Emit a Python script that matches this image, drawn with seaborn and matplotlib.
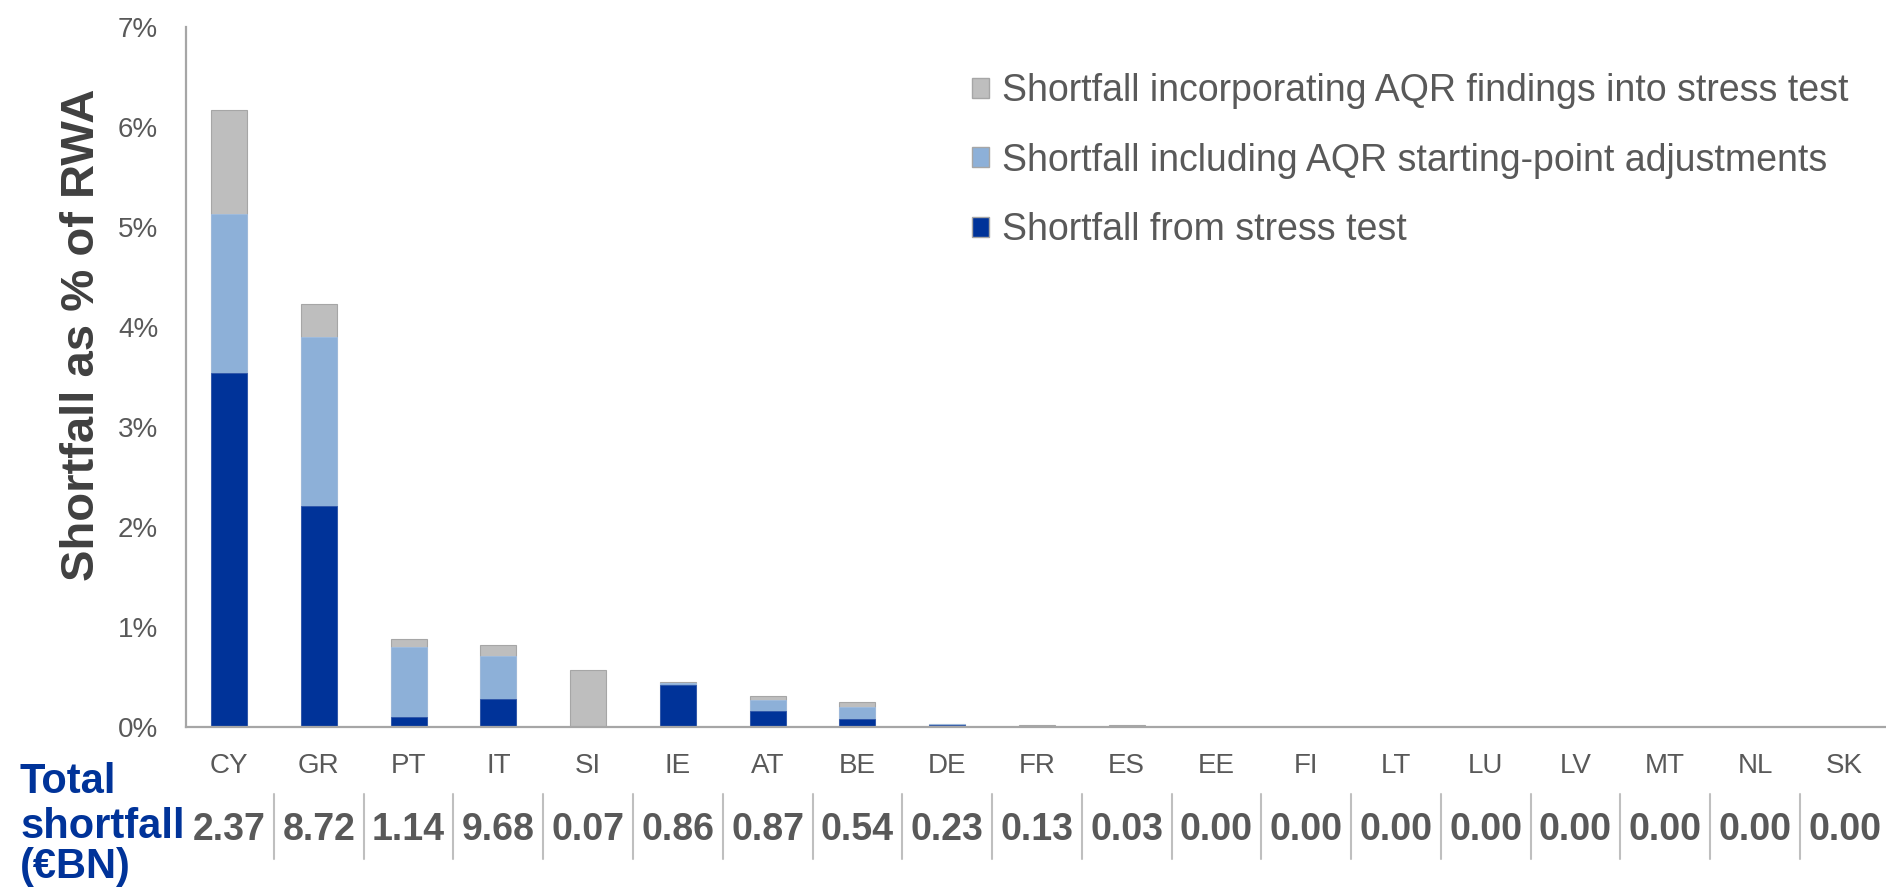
import numpy as np
import pandas as pd
import matplotlib
matplotlib.use("Agg")
import matplotlib.pyplot as plt
import matplotlib.transforms as mtransforms
from matplotlib.patches import Patch
import seaborn as sns

# data (shortfall as % of RWA)
countries = ['CY', 'GR', 'PT', 'IT', 'SI', 'IE', 'AT', 'BE', 'DE', 'FR',
             'ES', 'EE', 'FI', 'LT', 'LU', 'LV', 'MT', 'NL', 'SK']
stress_test = [3.54, 2.21, 0.105, 0.285, 0.0, 0.42, 0.158, 0.084, 0.017, 0.0,
               0.0, 0, 0, 0, 0, 0, 0, 0, 0]
aqr_start = [1.59, 1.69, 0.695, 0.425, 0.0, 0.025, 0.117, 0.114, 0.013, 0.0,
             0.0, 0, 0, 0, 0, 0, 0, 0, 0]
aqr_findings = [1.04, 0.33, 0.076, 0.11, 0.57, 0.004, 0.04, 0.057, 0.003, 0.023,
                0.023, 0, 0, 0, 0, 0, 0, 0, 0]
total_bn = ['2.37', '8.72', '1.14', '9.68', '0.07', '0.86', '0.87', '0.54', '0.23',
            '0.13', '0.03', '0.00', '0.00', '0.00', '0.00', '0.00', '0.00', '0.00', '0.00']
legend_labels = ['Shortfall incorporating AQR findings into stress test',
                 'Shortfall including AQR starting-point adjustments',
                 'Shortfall from stress test']

dark_blue = '#003399'
light_blue = '#8DB0D8'
grey = '#BEBEBE'
txt = '#595959'

df = pd.DataFrame({'country': countries, 'stress': stress_test,
                   'start': aqr_start, 'findings': aqr_findings})
df['lvl2'] = df['stress'] + df['start']
df['lvl3'] = df['lvl2'] + df['findings']

sns.set_style('white')
plt.rcParams['font.family'] = ['Liberation Sans', 'DejaVu Sans']

fig = plt.figure(figsize=(18.86, 8.89), dpi=100)
ax = fig.add_axes([186 / 1886, (889 - 727) / 889, 1 - 186 / 1886, 700 / 889])

# stacked bars: draw the cumulative heights back to front
sns.barplot(data=df, x='country', y='lvl3', color=grey, width=0.4, saturation=1,
            edgecolor='#A6A6A6', linewidth=0.8, ax=ax)
sns.barplot(data=df, x='country', y='lvl2', color=light_blue, width=0.4, saturation=1,
            edgecolor='#9FBCE0', linewidth=0.6, ax=ax)
sns.barplot(data=df, x='country', y='stress', color=dark_blue, width=0.4, saturation=1,
            edgecolor='#2F55A8', linewidth=0.6, ax=ax)

ax.set_ylim(0, 7)
ax.set_xlim(-0.48, 18.46)
ax.set_yticks(range(0, 8))
ax.set_yticklabels([f'{i}%' for i in range(0, 8)])
ax.set_xlabel('')
ax.set_ylabel('Shortfall as % of RWA', fontsize=34, fontweight='bold', color='#404040')
ax.yaxis.set_label_coords(-0.0485, 0.56)
ax.tick_params(axis='y', length=0, pad=20, labelsize=20, labelcolor=txt)
ax.tick_params(axis='x', length=0, pad=19, labelsize=20, labelcolor=txt)
for s in ['top', 'right']:
    ax.spines[s].set_visible(False)
for s in ['left', 'bottom']:
    ax.spines[s].set_color('#A6A6A6')
    ax.spines[s].set_linewidth(1.6)

handles = [Patch(facecolor=grey, edgecolor='#A6A6A6'),
           Patch(facecolor=light_blue, edgecolor='#A6A6A6'),
           Patch(facecolor=dark_blue, edgecolor='#A6A6A6')]
ax.legend(handles, legend_labels, loc='upper left',
          bbox_to_anchor=(972 / 1886, (889 - 73) / 889), bbox_transform=fig.transFigure,
          frameon=False, fontsize=27, labelcolor=txt, handlelength=0.45,
          handleheight=0.45, handletextpad=0.35, labelspacing=0.9,
          borderpad=0, borderaxespad=0)

# total shortfall row below the axis
trans = mtransforms.blended_transform_factory(ax.transData, fig.transFigure)
for i, v in enumerate(total_bn):
    ax.text(i, (889 - 830) / 889, v, transform=trans, ha='center', va='center',
            fontsize=27, fontweight='bold', color=txt, clip_on=False)
    if i > 0:
        ax.plot([i - 0.5, i - 0.5], [(889 - 794) / 889, (889 - 859) / 889],
                transform=trans, color='#BFBFBF', lw=1.5, clip_on=False)

for line, yp in zip(['Total', 'shortfall', '(€BN)'], [782, 827, 867]):
    fig.text(20 / 1886, (889 - yp) / 889, line, ha='left', va='center',
             fontsize=30, fontweight='bold', color=dark_blue)

fig.savefig('out.png', dpi=100)
